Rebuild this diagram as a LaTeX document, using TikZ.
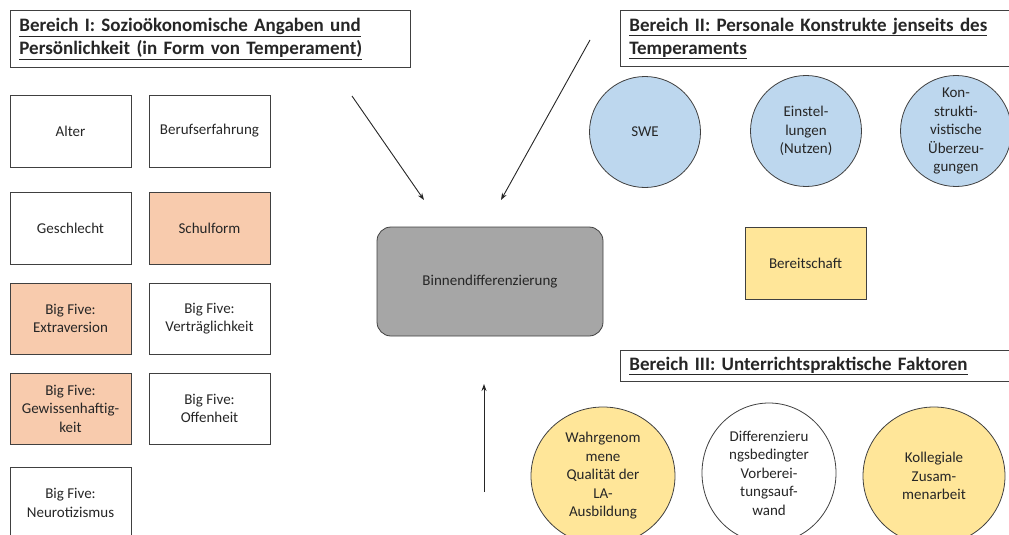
\documentclass[tikz,border=0pt]{standalone}
\usepackage{fontspec}
\setmainfont{Carlito}
\usetikzlibrary{arrows.meta,shapes.geometric}
\definecolor{orangefill}{HTML}{F8CBAD}
\definecolor{bluefill}{HTML}{BDD7EE}
\definecolor{yellowfill}{HTML}{FFE699}
\definecolor{grayfill}{HTML}{A6A6A6}
\definecolor{edge}{HTML}{404040}
\begin{document}
\begin{tikzpicture}[x=1pt,y=-1pt,
  every node/.style={font=\fontsize{15}{18.5}\selectfont, text=black!85, align=center, inner sep=0pt},
  factor/.style={draw=edge, line width=0.8pt, minimum width=121pt, minimum height=72pt},
  header/.style={draw=edge, line width=0.8pt, fill=white, anchor=north west, align=left,
    inner xsep=9pt, font=\fontsize{19}{23}\selectfont\bfseries},
  blob/.style={draw=edge, line width=0.8pt, circle, minimum size=111pt, fill=bluefill},
  oval/.style={draw=edge, line width=0.8pt, ellipse},
  arr/.style={-{Stealth[length=7pt,width=5pt]}, line width=0.9pt, black!85}]
\useasboundingbox (0,0) rectangle (1009,535);
\clip (0,0) rectangle (1009,535);

% Bereich I
\node[header, text width=382pt, minimum height=57pt] (h1) at (10,10)
  {\underline{Bereich I: Sozioökonomische Angaben und}\\\underline{Persönlichkeit (in Form von Temperament)}};

\node[factor] (alter) at (70.5,131) {Alter};
\node[factor] (beruf) at (209.5,131) {Berufserfahrung};
\node[factor] (geschl) at (70.5,228) {Geschlecht};
\node[factor, fill=orangefill] (schule) at (209.5,228) {Schulform};
\node[factor, fill=orangefill, minimum height=71pt] (extra) at (70.5,318.5) {Big Five:\\Extraversion};
\node[factor, minimum height=71pt] (vertr) at (209.5,318.5) {Big Five:\\Verträglichkeit};
\node[factor, fill=orangefill, minimum height=71pt] (gewiss) at (70.5,408.5) {Big Five:\\Gewissenhaftig-\\keit};
\node[factor, minimum height=71pt] (offen) at (209.5,408.5) {Big Five:\\Offenheit};
\node[factor, minimum height=72pt] (neuro) at (70.5,503) {Big Five:\\Neurotizismus};

% Zentrum
\node[draw=edge, line width=0.8pt, fill=grayfill, rounded corners=14pt,
  minimum width=226pt, minimum height=109pt] (binnen) at (490,281.5) {Binnendifferenzierung};

% Pfeile
\coordinate (a1s) at (352,96);
\coordinate (a1e) at (424,200);
\coordinate (a2s) at (590,40);
\coordinate (a2e) at (501,200);
\coordinate (a3s) at (484,492);
\coordinate (a3e) at (484,384);
\draw[arr] (a1s) -- (a1e);
\draw[arr] (a2s) -- (a2e);
\draw[arr] (a3s) -- (a3e);

% Bereich II
\node[header, text width=400pt, minimum height=56pt] (h2) at (620,10)
  {\underline{Bereich II: Personale Konstrukte jenseits des}\\\underline{Temperaments}};
\node[blob] (swe) at (645,132) {SWE};
\node[blob] (einst) at (806,131) {Einstel-\\lungen\\(Nutzen)};
\node[blob] (konstr) at (956,131) {Kon-\\strukti-\\vistische\\Überzeu-\\gungen};
\node[factor, fill=yellowfill] (bereit) at (805.5,263) {Bereitschaft};

% Bereich III
\node[header, text width=400pt, minimum height=31pt] (h3) at (620,350)
  {\underline{Bereich III: Unterrichtspraktische Faktoren}};
\node[oval, fill=yellowfill, minimum width=144pt, minimum height=138pt] (wahr) at (603,476)
  {Wahrgenom\\mene\\Qualität der\\LA-\\Ausbildung};
\node[oval, fill=white, minimum width=134pt, minimum height=140pt] (diff) at (769,473)
  {Differenzieru\\ngsbedingter\\Vorberei-\\tungsauf-\\wand};
\node[oval, fill=yellowfill, minimum width=142pt, minimum height=138pt] (koll) at (934,476)
  {Kollegiale\\Zusam-\\menarbeit};
\end{tikzpicture}
\end{document}
